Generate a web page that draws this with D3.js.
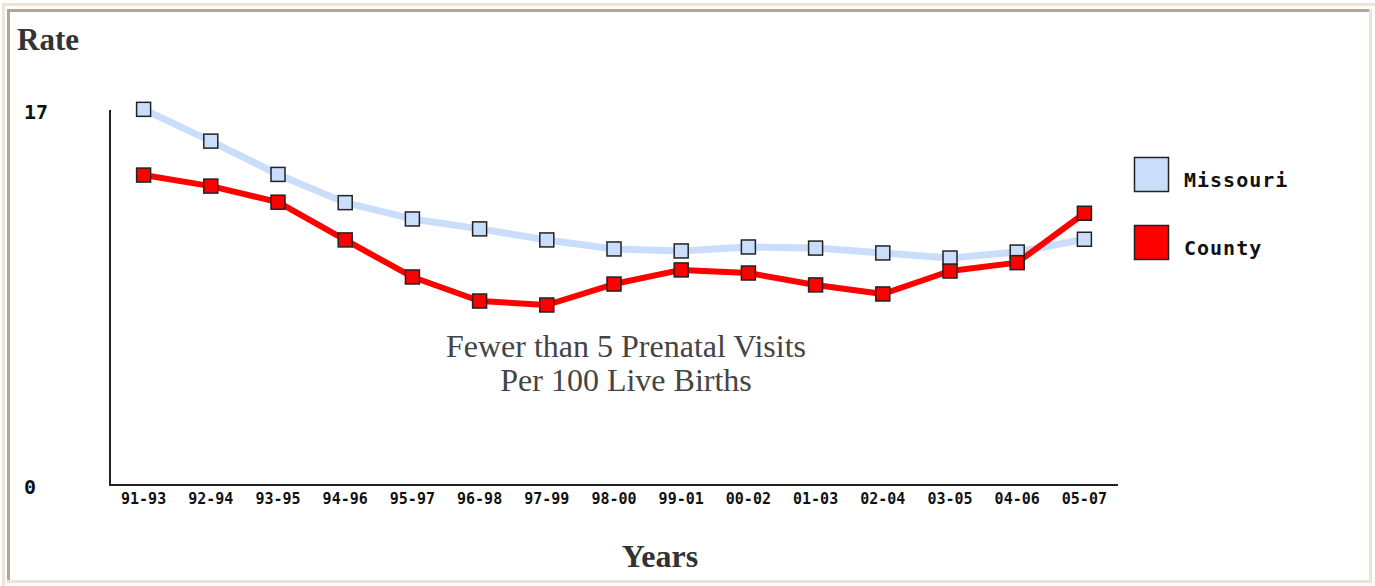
<!DOCTYPE html>
<html>
<head>
<meta charset="utf-8">
<script src="https://cdn.jsdelivr.net/npm/d3@7"></script>
<style>
html,body{margin:0;padding:0;background:#fff;}
svg{display:block;}
</style>
</head>
<body>
<svg id="chart" width="1375" height="586"></svg>
<script>
const categories = ["91-93","92-94","93-95","94-96","95-97","96-98","97-99","98-00","99-01","00-02","01-03","02-04","03-05","04-06","05-07"];
const missouri = [17.03,15.59,14.08,12.80,12.06,11.61,11.11,10.70,10.61,10.79,10.74,10.52,10.29,10.56,11.14];
const county = [14.05,13.55,12.82,11.11,9.43,8.34,8.16,9.11,9.75,9.61,9.07,8.66,9.70,10.08,12.32];
const yTicks = [0,17];
const seriesNames = ["Missouri","County"];
const seriesColors = ["#cadefc","#ff0000"];

const svg = d3.select("#chart");

// frame borders
const beige = "#ede4d7", brown = "#b3a596";
svg.append("rect").attr("x",2).attr("y",3).attr("width",1373).attr("height",3).attr("fill",beige);
svg.append("rect").attr("x",2).attr("y",3).attr("width",3).attr("height",583).attr("fill",beige);
svg.append("rect").attr("x",7).attr("y",9).attr("width",1364).attr("height",3).attr("fill",brown);
svg.append("rect").attr("x",7).attr("y",9).attr("width",3).attr("height",573).attr("fill",brown);
svg.append("rect").attr("x",1369).attr("y",9).attr("width",3).attr("height",574).attr("fill",beige);
svg.append("rect").attr("x",7).attr("y",580).attr("width",1365).attr("height",3).attr("fill",beige);

const x = d3.scalePoint().domain(categories).range([110,1118]).padding(0.5);
const y = d3.scaleLinear().domain([0,17]).range([485,110]);

// axes lines
svg.append("line").attr("x1",110).attr("x2",110).attr("y1",y(17)).attr("y2",y(0)+1).attr("stroke","#222").attr("stroke-width",2);
svg.append("line").attr("x1",109).attr("x2",1118).attr("y1",y(0)).attr("y2",y(0)).attr("stroke","#222").attr("stroke-width",2);

// y tick labels
svg.selectAll("text.ytick").data(yTicks).enter().append("text")
  .attr("x",24).attr("y",d=>y(d)+9)
  .attr("font-family","DejaVu Sans Mono").attr("font-weight","bold").attr("font-size",20)
  .attr("fill","#111").text(d=>d);

// x tick labels
svg.selectAll("text.xtick").data(categories).enter().append("text")
  .attr("x",d=>x(d)).attr("y",504)
  .attr("text-anchor","middle")
  .attr("font-family","DejaVu Sans Mono").attr("font-weight","bold").attr("font-size",15)
  .attr("fill","#111").text(d=>d);

// Lines
const line = d3.line().x((d,i)=>x(categories[i])).y(d=>y(d));
const series = [missouri, county];
series.forEach((s,k)=>{
  svg.append("path").datum(s).attr("d",line).attr("fill","none")
    .attr("stroke",seriesColors[k]).attr("stroke-width",k===0?7:6)
    .attr("stroke-linejoin","round");
});
series.forEach((s,k)=>{
  svg.selectAll(null).data(s).enter().append("rect")
    .attr("x",(d,i)=>x(categories[i])-7).attr("y",d=>y(d)-7)
    .attr("width",14).attr("height",14)
    .attr("fill",seriesColors[k]).attr("stroke","#222").attr("stroke-width",1.5);
});

// Legend
const legY = [157,225];
seriesNames.forEach((n,k)=>{
  svg.append("rect").attr("x",1134.5).attr("y",legY[k]+0.5).attr("width",34).attr("height",34)
    .attr("fill",seriesColors[k]).attr("stroke","#222").attr("stroke-width",1.5);
  svg.append("text").attr("x",1184).attr("y",legY[k]+30)
    .attr("font-family","DejaVu Sans Mono").attr("font-weight","bold").attr("font-size",20)
    .attr("letter-spacing",1)
    .attr("fill","#111").text(n);
});

// Titles
svg.append("text").attr("x",17).attr("y",50).attr("font-family","Liberation Serif")
  .attr("font-weight","bold").attr("font-size",31).attr("fill","#333").text("Rate");
svg.append("text").attr("x",660).attr("y",567).attr("text-anchor","middle").attr("font-family","Liberation Serif")
  .attr("font-weight","bold").attr("font-size",32).attr("fill","#333").text("Years");
svg.append("text").attr("x",626).attr("y",357).attr("text-anchor","middle").attr("font-family","Liberation Serif")
  .attr("font-size",32).attr("fill","#444").text("Fewer than 5 Prenatal Visits");
svg.append("text").attr("x",626).attr("y",391).attr("text-anchor","middle").attr("font-family","Liberation Serif")
  .attr("font-size",32).attr("fill","#444").text("Per 100 Live Births");
</script>
</body>
</html>
